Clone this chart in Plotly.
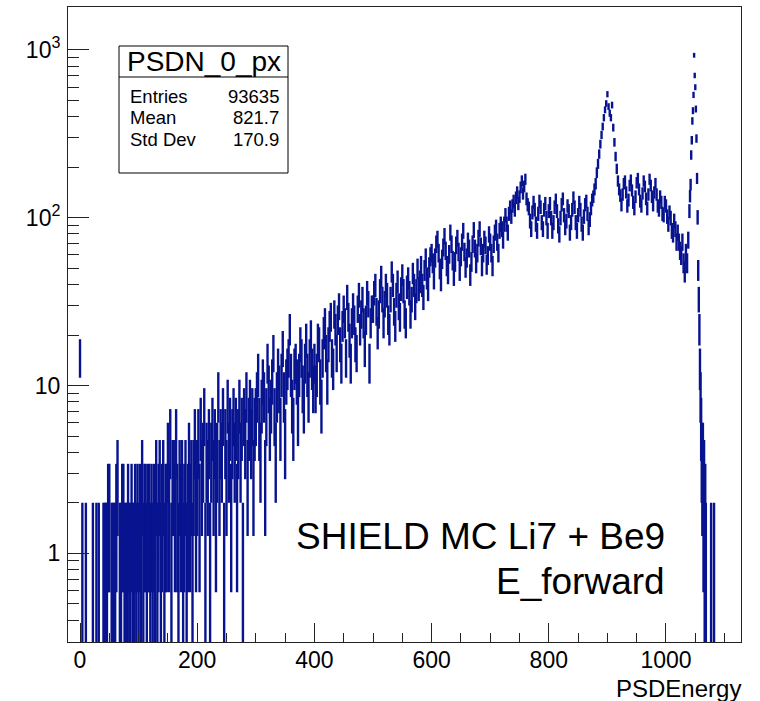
import math
import plotly.graph_objects as go

# ---------------- data ----------------
# bin contents, one value every 2 units of PSDEnergy, starting at 0
main_start = 0
main_width = 2
counts_000 = [15,0,1,0,0,1,0,0,0,0, 0,1,0,0,1,0,1,0,0,0, 1,1,1,1,2,2,0,1,1,1,
              1,2,3,0,1,1,2,2,1,1, 1,2,1,1,2,1,1,2,1,2]
counts_100 = [1,2,1,3,1,2,2,1,2,2, 1,2,1,2,1,3,1,2,3,1, 2,3,1,2,2,4,2,5,1,3,
              3,2,5,2,1,3,2,3,1,2, 3,1,2,4,2,3,1,3,5,2]
counts_200 = [3,5,2,6,3,4,7,1,4,3, 5,1,4,6,3,5,2,4,9,3, 5,4,7,1,5,3,8,4,6,2,
              5,7,4,6,2,5,8,4,6,1, 7,5,9,3,6,8,5,7,3,6]
counts_300 = [7,9,12,6,4,8,11,9,3,7, 14,10,6,8,11,16,7,4,9,13, 10,6,12,17,9,5,11,13,15,22,
              12,8,6,13,14,11,7,12,18,15, 10,8,14,19,12,9,15,20,13,10]
counts_400 = [14,10,12,19,18,11,8,15,21,24, 16,11,18,23,26,15,13,27,22,16, 25,30,18,14,23,29,24,15,34,26,
              19,14,24,30,25,18,16,29,35,22, 27,33,24,17,25,36,31,14,24,29]
counts_500 = [29,36,40,28,21,27,37,45,33,24, 31,40,35,25,22,33,48,40,28,23, 35,42,30,26,38,46,37,27,24,39,
              44,36,27,33,47,40,30,37,50,38, 42,52,40,34,49,58,44,38,51,59]
counts_600 = [62,54,44,58,70,75,62,50,43,57, 67,78,64,52,47,61,82,70,56,46, 55,69,76,63,49,59,72,84,63,51,
              58,73,66,46,55,70,85,66,54,62, 76,86,68,52,62,75,69,53,60,80]
counts_700 = [72,62,52,70,82,88,72,62,84,92, 86,74,92,104,92,82,106,116,102,118, 126,112,132,142,122,134,152,166,140,154,
              170,130,120,114,96,86,108,124,112,92, 84,106,126,116,94,86,112,122,100,84]
counts_800 = [110,122,100,84,94,116,128,110,90,80, 100,120,130,104,88,96,118,110,82,94, 112,132,116,94,84,104,124,112,92,82,
              102,120,126,106,88,98,114,128,134,148, 160,186,210,240,275,312,350,395,440,480]
counts_900 = [545,460,420,395,470,345,282,232,196,166, 148,136,120,138,160,166,142,118,128,156, 168,146,124,114,134,162,172,148,126,118,
              140,166,154,130,114,138,170,156,134,120, 142,160,138,118,112,134,124,106,104,124]
counts_1000 = [118,102,92,108,100,84,80,96,86,72, 82,72,64,60,72,54,48,62,54,74]

# the narrow line near 1048, one value per unit, starting at 1040
spike_start = 1040
spike_width = 1
spike_counts = [110,135,158,237,290,378,435,540,930,705, 600,445,297,172,101,49,33,22,13,9,
                6,4,3,4,2,3,1,2,1,0, 0,0,0,0,0,0,0,1,0,0, 0,0,1]

stats_title = "PSDN_0_px"
stats_rows = [("Entries", "93635"), ("Mean", "821.7"), ("Std Dev", "170.9")]
x_ticks = [0, 200, 400, 600, 800, 1000]
y_ticks = [1, 10, 100, 1000]
y_ticktext = ["1", "10", "10<sup>2</sup>", "10<sup>3</sup>"]

# ---------------- build error-bar segments ----------------
counts_main = (counts_000 + counts_100 + counts_200 + counts_300 + counts_400 +
               counts_500 + counts_600 + counts_700 + counts_800 + counts_900 + counts_1000)
bins = [(main_start + main_width * i, n) for i, n in enumerate(counts_main)]
bins += [(spike_start + spike_width * i, n) for i, n in enumerate(spike_counts)]

xs, ys = [], []
for x, n in bins:
    if n <= 0:
        continue
    e = math.sqrt(n)
    lo = n - e if n - e > 0 else 1e-3
    xs += [x, x, None, x - 0.5, x + 0.5, None]
    ys += [lo, n + e, None, n, n, None]

COL = "#08148f"
FONT = "Liberation Sans, Arial, Helvetica, sans-serif"

fig = go.Figure()
fig.add_trace(go.Scatter(x=xs, y=ys, mode="lines",
                         line=dict(color=COL, width=2.4, simplify=False),
                         hoverinfo="skip", showlegend=False))

L, R, T, B = 68, 741, 7, 642
W, H = 760, 701
def px(x):
    return (x - L) / (R - L)
def py(y):
    return (B - y) / (B - T)

minor_y = [m * 10 ** d for d in range(-1, 3) for m in range(2, 10)]
minor_y = [v for v in minor_y if 0.296 < v < 1800]

fig.update_layout(
    width=W, height=H,
    margin=dict(l=L, r=W - R, t=T, b=H - B, pad=0),
    paper_bgcolor="white", plot_bgcolor="white",
    font=dict(family=FONT, color="black"),
    showlegend=False,
    xaxis=dict(range=[-20.5, 1128], tickmode="array", tickvals=x_ticks,
               ticks="inside", ticklen=19, tickwidth=1, tickcolor="#222",
               minor=dict(ticks="inside", ticklen=9, tickwidth=1, tickcolor="#222",
                          tickmode="linear", tick0=0, dtick=50),
               showline=True, linecolor="#222", linewidth=1, mirror=True,
               showgrid=False, zeroline=False,
               tickfont=dict(size=23, family=FONT), ticklabelstandoff=-3),
    yaxis=dict(type="log", range=[math.log10(0.296), math.log10(1803)],
               tickmode="array", tickvals=y_ticks, ticktext=y_ticktext,
               ticks="inside", ticklen=21, tickwidth=1, tickcolor="#222",
               minor=dict(ticks="inside", ticklen=11, tickwidth=1, tickcolor="#222",
                          tickmode="array", tickvals=minor_y),
               showline=True, linecolor="#222", linewidth=1, mirror=True,
               showgrid=False, zeroline=False,
               tickfont=dict(size=23, family=FONT), ticklabelstandoff=2),
)

# stats box
bx0, bx1, by0, by1, bsep = 119, 288, 46, 173, 77
fig.add_shape(type="rect", xref="paper", yref="paper",
              x0=px(bx0), x1=px(bx1), y0=py(by1), y1=py(by0),
              line=dict(color="black", width=1), fillcolor="white", layer="above")
fig.add_shape(type="line", xref="paper", yref="paper",
              x0=px(bx0), x1=px(bx1), y0=py(bsep), y1=py(bsep),
              line=dict(color="black", width=1), layer="above")

ann = []
ann.append(dict(text=stats_title, x=px((bx0 + bx1) / 2), y=py(61), xanchor="center",
                yanchor="middle", font=dict(size=28)))
row_y = [96.5, 117.5, 139.5]
for (lab, val), yy in zip(stats_rows, row_y):
    ann.append(dict(text=lab, x=px(129), y=py(yy), xanchor="left", yanchor="middle",
                    font=dict(size=18.5)))
    ann.append(dict(text=val, x=px(280), y=py(yy), xanchor="right", yanchor="middle",
                    font=dict(size=18.5)))
ann.append(dict(text="SHIELD MC Li7 + Be9", x=px(666), y=py(536), xanchor="right",
                yanchor="middle", font=dict(size=37)))
ann.append(dict(text="E_forward", x=px(666), y=py(581), xanchor="right",
                yanchor="middle", font=dict(size=37)))
ann.append(dict(text="PSDEnergy", x=px(742), y=py(688), xanchor="right",
                yanchor="middle", font=dict(size=24)))
for a in ann:
    a.update(xref="paper", yref="paper", showarrow=False, borderpad=0)
    a["font"].update(family=FONT, color="black")
fig.update_layout(annotations=ann)

fig.write_html("out.html")
